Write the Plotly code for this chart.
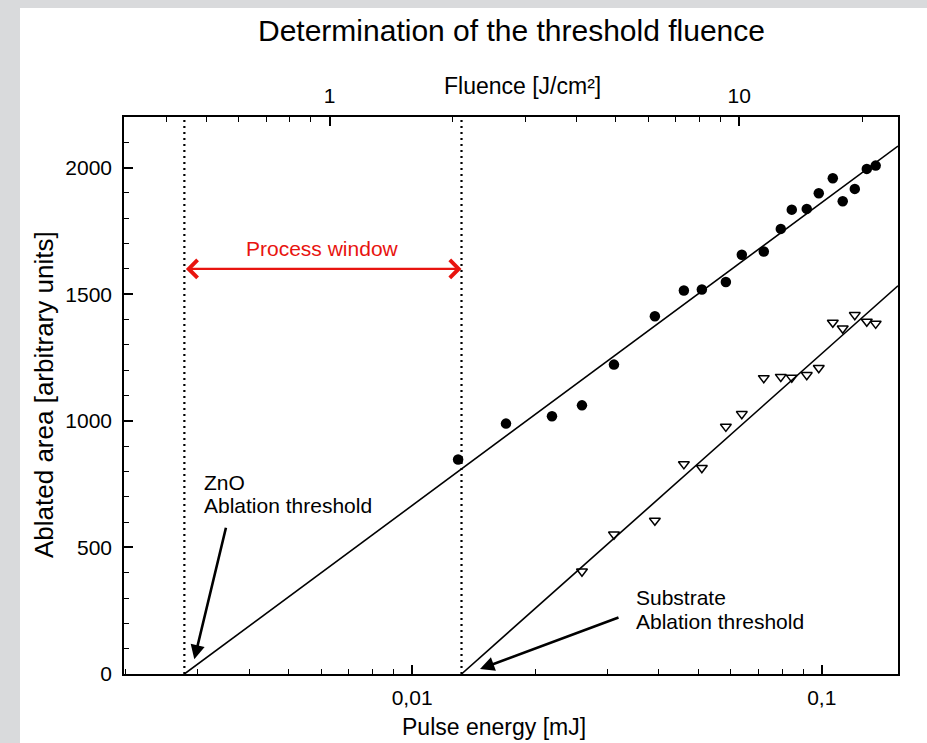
import numpy as np
import plotly.graph_objects as go

# ---------------- data ----------------
pulse_energy_mj = [0.01295, 0.01695, 0.02195, 0.02598, 0.03110, 0.03914, 0.04607,
                   0.05097, 0.05833, 0.06380, 0.07219, 0.07943, 0.08449, 0.09192,
                   0.09833, 0.1064, 0.1125, 0.1204, 0.1288, 0.1354]
zno_area = [847, 989, 1018, 1061, 1222, 1413, 1515, 1519, 1548, 1656, 1669, 1758,
            1834, 1837, 1899, 1958, 1867, 1916, 1995, 2008]
substrate_energy_mj = pulse_energy_mj[3:]
substrate_area = [405, 551, 606, 829, 814, 977, 1027, 1169, 1174, 1171, 1181, 1209,
                  1388, 1365, 1418, 1392, 1384]

# linear fits in log(energy): area = slope * log10(E / threshold)
zno_threshold_mj = 0.00278
zno_slope = 1197
substrate_threshold_mj = 0.0132
substrate_slope = 1439

fluence_per_mj = 159.0          # J/cm^2 per mJ (top axis conversion)
x_range_mj = [0.00198, 0.1535]
y_range = [0, 2200]
process_window_level = 1600

x_major_vals = [0.01, 0.1]
x_major_text = ["0,01", "0,1"]
x_minor_vals = [0.002, 0.003, 0.004, 0.005, 0.006, 0.007, 0.008, 0.009,
                0.02, 0.03, 0.04, 0.05, 0.06, 0.07, 0.08, 0.09]
top_major_vals = [1, 10]
top_major_text = ["1", "10"]
top_minor_vals = [0.4, 0.5, 0.6, 0.7, 0.8, 0.9, 2, 3, 4, 5, 6, 7, 8, 9, 20]
y_major_vals = [0, 500, 1000, 1500, 2000]

# ---------------- layout helpers ----------------
W, H = 927, 743
L, R, T, B = 124, 898, 117, 674
def px(xp):
    return (xp - L) / (R - L)
def py(yp):
    return (B - yp) / (B - T)

FONT = "Liberation Sans, Arial, Helvetica, sans-serif"

fig = go.Figure()

# threshold dotted lines
for thr in (zno_threshold_mj, substrate_threshold_mj):
    fig.add_trace(go.Scatter(x=[thr, thr], y=y_range, mode="lines",
                             line=dict(color="black", width=2.2, dash="2px,4px"),
                             hoverinfo="skip", showlegend=False))

# fit lines
for thr, slope in ((zno_threshold_mj, zno_slope), (substrate_threshold_mj, substrate_slope)):
    xs = np.array([thr, x_range_mj[1]])
    ys = slope * np.log10(xs / thr)
    fig.add_trace(go.Scatter(x=xs, y=ys, mode="lines",
                             line=dict(color="black", width=1.6),
                             hoverinfo="skip", showlegend=False))

# data points
fig.add_trace(go.Scatter(x=pulse_energy_mj, y=zno_area, mode="markers",
                         marker=dict(symbol="circle", size=10.5, color="black"),
                         name="ZnO", showlegend=False))
fig.add_trace(go.Scatter(x=substrate_energy_mj, y=substrate_area, mode="markers",
                         marker=dict(symbol="triangle-down-open", size=9.5, color="black",
                                     line=dict(width=1.5, color="black")),
                         name="Substrate", showlegend=False))

# invisible trace for the fluence axis
fig.add_trace(go.Scatter(x=[v * fluence_per_mj for v in pulse_energy_mj], y=zno_area,
                         xaxis="x2", mode="markers", marker=dict(opacity=0),
                         hoverinfo="skip", showlegend=False))

tick_font = dict(family=FONT, size=21, color="black")

fig.update_layout(
    width=W, height=H,
    margin=dict(l=L, r=W - R, t=T, b=H - B),
    paper_bgcolor="#d9dadc",
    plot_bgcolor="white",
    font=dict(family=FONT, color="black"),
    showlegend=False,
    xaxis=dict(type="log", range=[np.log10(x_range_mj[0]), np.log10(x_range_mj[1])],
               tickmode="array", tickvals=x_major_vals, ticktext=x_major_text,
               ticks="inside", ticklen=9, tickwidth=1.5, tickcolor="black",
               minor=dict(tickmode="array", tickvals=x_minor_vals, ticks="inside",
                          ticklen=5, tickwidth=1.2, tickcolor="black", showgrid=False),
               showline=True, linecolor="black", linewidth=1.5,
               showgrid=False, zeroline=False, tickfont=tick_font,
               ticklabelstandoff=4),
    xaxis2=dict(type="log", overlaying="x", side="top",
                range=[np.log10(x_range_mj[0] * fluence_per_mj),
                       np.log10(x_range_mj[1] * fluence_per_mj)],
                tickmode="array", tickvals=top_major_vals, ticktext=top_major_text,
                ticks="inside", ticklen=9, tickwidth=1.5, tickcolor="black",
                minor=dict(tickmode="array", tickvals=top_minor_vals, ticks="inside",
                           ticklen=5, tickwidth=1.2, tickcolor="black", showgrid=False),
                showline=True, linecolor="black", linewidth=1.5,
                showgrid=False, zeroline=False, tickfont=tick_font,
                ticklabelstandoff=4),
    yaxis=dict(range=y_range, tickmode="array", tickvals=y_major_vals,
               ticks="inside", ticklen=9, tickwidth=1.5, tickcolor="black",
               minor=dict(dtick=100, ticks="inside", ticklen=5, tickwidth=1.2,
                          tickcolor="black", showgrid=False),
               showline=True, linecolor="black", linewidth=1.5, mirror=True,
               showgrid=False, zeroline=False, tickfont=tick_font,
               ticklabelstandoff=6),
)

# white slide panel
fig.add_shape(type="rect", xref="paper", yref="paper",
              x0=px(20), x1=px(940), y0=py(760), y1=py(8),
              fillcolor="white", line=dict(width=0), layer="below")

ann = []
def text(t, xp, yp, size, xanchor="center", color="black", angle=0):
    ann.append(dict(text=t, x=px(xp), y=py(yp), xref="paper", yref="paper",
                    xanchor=xanchor, yanchor="middle", showarrow=False,
                    textangle=angle, font=dict(family=FONT, size=size, color=color)))

text("Determination of the threshold fluence", 511, 30, 30)
text("Fluence [J/cm²]", 522, 86, 23)
text("Pulse energy [mJ]", 494, 727, 23)
text("Ablated area [arbitrary units]", 44, 395, 26, angle=-90)
text("Process window", 322, 249, 21, color="#e8140f")
text("ZnO", 202, 482, 21, xanchor="left")
text("Ablation threshold", 202, 505, 21, xanchor="left")
text("Substrate", 634, 597, 21, xanchor="left")
text("Ablation threshold", 634, 621, 21, xanchor="left")

# black pointer arrows
ann.append(dict(text="", x=px(194.3), y=py(659.3), xref="paper", yref="paper",
                showarrow=True, ax=32, ay=-133, arrowhead=2, arrowsize=1.1,
                arrowwidth=2.6, arrowcolor="black"))
ann.append(dict(text="", x=px(480), y=py(669), xref="paper", yref="paper",
                showarrow=True, ax=140, ay=-52, arrowhead=2, arrowsize=1.1,
                arrowwidth=2.6, arrowcolor="black"))
# red double-headed process-window arrow
ann.append(dict(text="", x=np.log10(substrate_threshold_mj), y=process_window_level,
                xref="x", yref="y", axref="x", ayref="y",
                ax=np.log10(zno_threshold_mj), ay=process_window_level,
                showarrow=True, arrowside="end+start", arrowhead=4, arrowsize=1.5,
                arrowwidth=2.3, arrowcolor="#e8140f"))

fig.update_layout(annotations=ann)

fig.write_html("out.html", config={"displayModeBar": False},
               post_script="document.body.style.margin='0';document.body.style.overflow='hidden';")
